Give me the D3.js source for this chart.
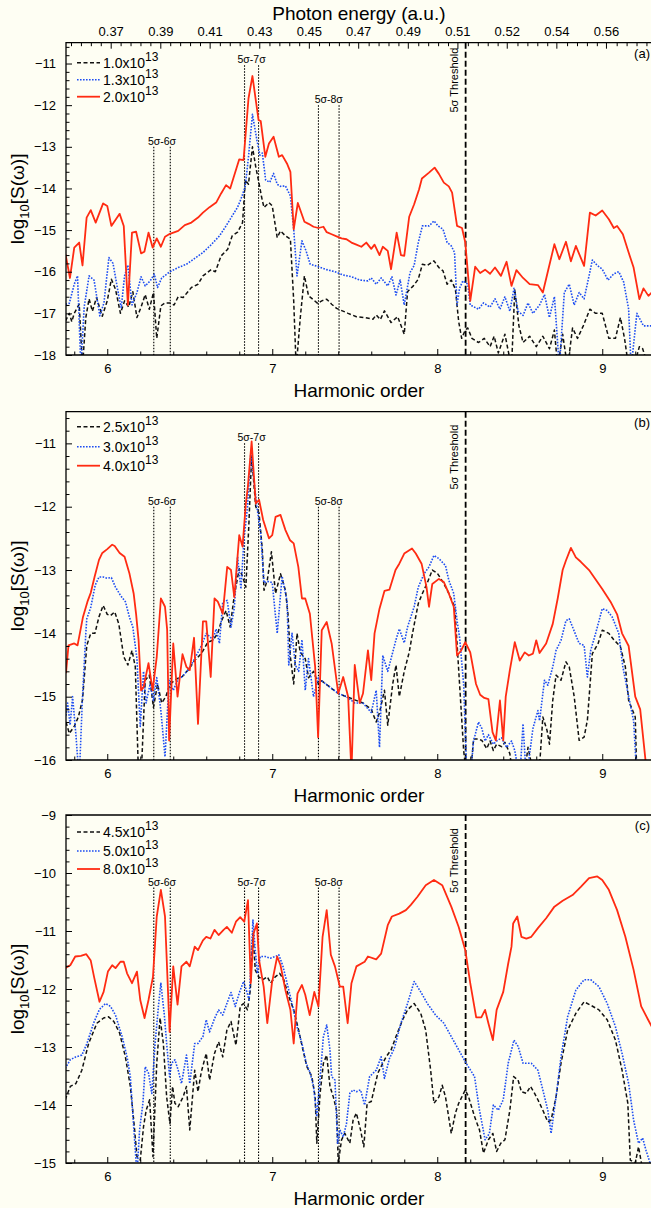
<!DOCTYPE html>
<html>
<head>
<meta charset="utf-8">
<script src="https://cdn.jsdelivr.net/npm/d3@7"></script>
<style>
body { margin: 0; background: #fefef3; }
svg { display: block; font-family: "Liberation Sans", Arial, Helvetica, sans-serif; }
</style>
</head>
<body>
<svg id="chart" width="651" height="1208"></svg>
<script>
// harmonic order range shown on every panel
const orderDomain = [5.75, 9.3];
const orderTicks = [6, 7, 8, 9];

// top axis (panel a only): photon energy in a.u.
const omega = 0.0622;
const energyTicks = [0.3745, 0.3932, 0.4118, 0.4305, 0.4492, 0.4678, 0.4865, 0.5052, 0.5238, 0.5425, 0.5612];
const energyLabels = ['0.37', '0.39', '0.41', '0.43', '0.45', '0.47', '0.49', '0.51', '0.52', '0.54', '0.56'];

// resonance markers
const sigmaPairs = [[6.282, 6.382], [6.832, 6.917], [7.28, 7.405]];
const sigmaLabels = ['5σ-6σ', '5σ-7σ', '5σ-8σ'];
const thresholdOrder = 8.172;

// panel (a)
const legendA = ['1.0', '1.3', '2.0'];
const a10 = [[5.747,-17.18],[5.77,-17.0],[5.785,-17.2],[5.80,-17.0],[5.83,-16.78],[5.85,-18.3],[5.87,-17.1],[5.89,-16.65],[5.91,-16.95],[5.935,-16.62],[5.97,-17.07],[6.0,-16.7],[6.025,-16.18],[6.05,-16.42],[6.08,-17.0],[6.105,-16.7],[6.13,-16.85],[6.155,-16.48],[6.18,-17.1],[6.205,-16.85],[6.23,-16.55],[6.255,-16.9],[6.28,-16.5],[6.30,-17.6],[6.325,-16.82],[6.35,-16.75],[6.38,-16.75],[6.405,-16.8],[6.43,-16.6],[6.46,-16.62],[6.485,-16.5],[6.51,-16.38],[6.55,-16.3],[6.58,-16.1],[6.63,-15.95],[6.655,-16.0],[6.69,-15.62],[6.73,-15.46],[6.757,-15.14],[6.79,-15.05],[6.82,-14.82],[6.837,-13.8],[6.856,-13.9],[6.88,-13.0],[6.90,-13.48],[6.92,-13.88],[6.935,-14.2],[6.95,-14.46],[6.98,-14.34],[7.0,-14.42],[7.03,-15.18],[7.05,-15.02],[7.08,-15.14],[7.11,-15.22],[7.13,-16.7],[7.145,-18.3],[7.17,-17.1],[7.195,-16.1],[7.22,-16.58],[7.245,-16.66],[7.275,-16.76],[7.30,-16.7],[7.33,-16.66],[7.36,-16.78],[7.39,-16.88],[7.46,-17.0],[7.51,-17.08],[7.56,-17.1],[7.61,-17.14],[7.63,-17.04],[7.655,-17.15],[7.68,-16.94],[7.72,-17.22],[7.76,-17.08],[7.80,-17.5],[7.82,-16.48],[7.855,-16.34],[7.885,-16.18],[7.91,-15.82],[7.94,-15.85],[7.98,-15.74],[8.01,-15.9],[8.035,-15.98],[8.06,-16.3],[8.085,-16.2],[8.11,-16.42],[8.13,-17.2],[8.148,-17.6],[8.17,-17.4],[8.185,-17.35],[8.21,-17.6],[8.25,-17.7],[8.285,-17.6],[8.32,-17.8],[8.345,-17.55],[8.37,-17.95],[8.41,-17.5],[8.45,-18.3],[8.47,-16.42],[8.495,-17.3],[8.52,-17.7],[8.56,-17.55],[8.6,-17.8],[8.64,-17.55],[8.68,-17.85],[8.71,-17.4],[8.73,-18.3],[8.76,-17.5],[8.79,-18.3],[8.82,-17.35],[8.85,-17.6],[8.885,-17.3],[8.925,-16.9],[8.96,-17.0],[9.0,-17.0],[9.04,-17.6],[9.08,-17.6],[9.11,-17.1],[9.135,-17.6],[9.16,-18.3],[9.19,-18.3],[9.225,-17.8],[9.245,-17.85],[9.28,-18.3],[9.3,-18.3]];
const a13 = [[5.747,-16.78],[5.77,-16.76],[5.80,-16.3],[5.82,-16.1],[5.84,-18.3],[5.86,-16.85],[5.89,-16.1],[5.92,-16.2],[5.955,-17.06],[5.98,-16.75],[6.01,-15.66],[6.035,-15.8],[6.07,-16.58],[6.085,-16.86],[6.105,-16.1],[6.125,-15.84],[6.15,-16.8],[6.18,-16.5],[6.205,-16.12],[6.23,-16.34],[6.26,-16.22],[6.285,-16.06],[6.305,-16.38],[6.33,-16.15],[6.38,-16.0],[6.43,-15.9],[6.48,-15.82],[6.53,-15.68],[6.58,-15.54],[6.63,-15.35],[6.68,-15.14],[6.72,-14.9],[6.757,-14.66],[6.79,-14.45],[6.81,-14.26],[6.836,-13.96],[6.856,-13.24],[6.88,-12.22],[6.907,-12.84],[6.925,-13.2],[6.94,-13.15],[6.96,-13.8],[6.985,-13.85],[7.008,-13.64],[7.03,-13.9],[7.05,-13.95],[7.08,-13.94],[7.11,-14.18],[7.13,-14.98],[7.15,-16.1],[7.18,-15.26],[7.205,-15.5],[7.23,-15.82],[7.28,-15.88],[7.33,-15.95],[7.38,-16.0],[7.43,-16.08],[7.48,-16.12],[7.53,-16.2],[7.58,-16.22],[7.6,-16.15],[7.63,-16.3],[7.66,-16.15],[7.70,-16.34],[7.725,-16.12],[7.75,-16.56],[7.775,-16.2],[7.80,-16.8],[7.835,-16.02],[7.86,-15.85],[7.885,-15.3],[7.91,-14.9],[7.95,-14.9],[7.98,-14.78],[8.005,-14.9],[8.035,-14.98],[8.06,-15.3],[8.085,-15.38],[8.105,-15.54],[8.12,-16.8],[8.135,-16.4],[8.155,-16.22],[8.185,-16.3],[8.2,-16.8],[8.25,-16.9],[8.28,-16.75],[8.32,-16.85],[8.35,-16.65],[8.38,-16.9],[8.41,-16.6],[8.44,-16.95],[8.465,-16.4],[8.49,-16.95],[8.52,-17.05],[8.55,-16.75],[8.58,-17.0],[8.62,-16.8],[8.65,-16.55],[8.68,-17.1],[8.71,-16.6],[8.74,-18.3],[8.77,-16.5],[8.80,-16.3],[8.83,-16.8],[8.86,-16.5],[8.89,-16.65],[8.92,-16.1],[8.94,-15.72],[8.97,-15.85],[9.0,-15.94],[9.035,-16.2],[9.07,-16.05],[9.1,-16.0],[9.13,-16.25],[9.16,-16.9],[9.175,-18.3],[9.21,-17.0],[9.25,-17.3],[9.30,-17.3]];
const a20 = [[5.747,-15.58],[5.774,-16.15],[5.80,-15.42],[5.83,-15.30],[5.85,-15.85],[5.875,-14.70],[5.90,-14.52],[5.93,-14.82],[5.975,-14.36],[6.0,-14.42],[6.025,-14.90],[6.075,-14.61],[6.10,-14.90],[6.125,-16.8],[6.15,-15.06],[6.175,-15.04],[6.205,-15.56],[6.225,-15.52],[6.25,-15.06],[6.275,-15.42],[6.30,-15.2],[6.325,-15.40],[6.35,-15.16],[6.38,-15.09],[6.43,-15.02],[6.47,-14.88],[6.51,-14.82],[6.55,-14.7],[6.58,-14.58],[6.62,-14.45],[6.66,-14.34],[6.69,-14.12],[6.72,-13.92],[6.745,-14.0],[6.80,-13.30],[6.826,-13.32],[6.856,-11.84],[6.88,-11.30],[6.917,-12.36],[6.93,-12.38],[6.958,-13.24],[6.98,-12.92],[7.008,-12.76],[7.04,-13.24],[7.06,-13.2],[7.089,-13.4],[7.11,-13.6],[7.13,-14.98],[7.155,-14.35],[7.195,-14.8],[7.22,-14.85],[7.25,-14.92],[7.28,-14.95],[7.31,-14.92],[7.33,-15.05],[7.36,-15.1],[7.39,-15.15],[7.42,-15.2],[7.45,-15.22],[7.48,-15.3],[7.51,-15.35],[7.54,-15.4],[7.57,-15.3],[7.6,-15.45],[7.62,-15.35],[7.65,-15.6],[7.67,-15.4],[7.70,-15.5],[7.72,-15.94],[7.754,-15.06],[7.78,-15.6],[7.80,-15.62],[7.83,-14.68],[7.86,-14.38],[7.89,-14.02],[7.907,-13.76],[7.95,-13.62],[7.984,-13.5],[8.01,-13.65],[8.04,-13.86],[8.07,-13.95],[8.09,-14.1],[8.12,-14.9],[8.15,-14.95],[8.17,-15.3],[8.20,-16.7],[8.23,-15.88],[8.26,-16.03],[8.29,-15.95],[8.32,-16.05],[8.35,-15.9],[8.386,-16.1],[8.42,-15.76],[8.45,-16.34],[8.48,-15.96],[8.52,-16.15],[8.56,-16.3],[8.61,-16.32],[8.64,-16.5],[8.67,-16.0],[8.71,-15.34],[8.74,-15.7],[8.78,-15.28],[8.81,-15.75],[8.84,-15.38],[8.89,-15.86],[8.925,-14.58],[8.96,-14.65],[9.0,-14.53],[9.04,-14.74],[9.07,-14.95],[9.09,-14.9],[9.125,-15.1],[9.16,-15.54],[9.19,-15.9],[9.225,-16.66],[9.25,-16.4],[9.28,-16.58],[9.30,-16.5]];
const yTicksA = [-18, -17, -16, -15, -14, -13, -12, -11];
const sigmaTopsA = [-13, -11.04, -12];

// panel (b)
const legendB = ['2.5', '3.0', '4.0'];
const b25 = [[5.75,-15.4],[5.77,-15.58],[5.80,-15.47],[5.825,-15.32],[5.85,-15.05],[5.876,-14.19],[5.90,-14.0],[5.925,-14.0],[5.95,-13.74],[5.975,-13.56],[6.0,-13.7],[6.02,-13.72],[6.045,-13.66],[6.07,-13.85],[6.10,-14.37],[6.125,-14.5],[6.15,-14.27],[6.17,-14.53],[6.19,-16.3],[6.205,-16.3],[6.23,-14.74],[6.255,-14.66],[6.28,-15.17],[6.305,-14.8],[6.33,-15.1],[6.355,-15.0],[6.38,-14.8],[6.42,-14.72],[6.455,-14.68],[6.49,-14.58],[6.53,-14.43],[6.57,-14.32],[6.61,-14.14],[6.64,-14.11],[6.67,-14.0],[6.69,-13.82],[6.72,-13.64],[6.745,-13.9],[6.77,-13.4],[6.80,-12.98],[6.82,-13.1],[6.84,-13.27],[6.858,-12.3],[6.875,-11.2],[6.90,-12.0],[6.92,-12.1],[6.94,-12.69],[6.95,-13.32],[6.97,-13.16],[6.995,-12.71],[7.02,-13.37],[7.05,-13.06],[7.08,-13.32],[7.095,-13.69],[7.11,-14.37],[7.13,-14.8],[7.15,-14.0],[7.17,-14.3],[7.2,-14.4],[7.22,-14.7],[7.25,-14.6],[7.28,-14.8],[7.3,-14.75],[7.35,-14.85],[7.4,-14.95],[7.45,-15.0],[7.5,-15.05],[7.55,-15.1],[7.6,-15.2],[7.63,-15.4],[7.65,-15.25],[7.68,-14.9],[7.7,-15.45],[7.73,-14.8],[7.75,-14.5],[7.77,-15.0],[7.8,-14.6],[7.83,-14.3],[7.85,-14.0],[7.885,-13.53],[7.91,-13.37],[7.94,-13.2],[7.97,-13.0],[8.0,-13.05],[8.035,-13.19],[8.07,-13.37],[8.105,-13.58],[8.12,-14.16],[8.14,-15.0],[8.16,-15.85],[8.18,-16.3],[8.2,-16.3],[8.22,-15.67],[8.25,-15.67],[8.27,-15.69],[8.30,-15.82],[8.32,-15.7],[8.34,-15.85],[8.36,-15.75],[8.39,-15.79],[8.41,-15.72],[8.44,-15.9],[8.46,-16.3],[8.5,-16.3],[8.53,-16.2],[8.55,-15.8],[8.59,-16.3],[8.62,-16.1],[8.64,-15.32],[8.665,-15.53],[8.68,-15.75],[8.70,-15.06],[8.72,-14.66],[8.75,-14.74],[8.78,-14.45],[8.80,-14.53],[8.83,-15.0],[8.86,-15.69],[8.89,-15.64],[8.91,-15.37],[8.94,-14.32],[8.975,-14.16],[9.0,-13.95],[9.04,-14.0],[9.07,-14.1],[9.11,-14.21],[9.14,-14.53],[9.16,-15.06],[9.2,-15.32],[9.21,-16.3],[9.3,-16.3]];
const b30 = [[5.75,-15.3],[5.76,-15.1],[5.775,-15.45],[5.79,-15.0],[5.81,-15.6],[5.83,-16.3],[5.85,-15.0],[5.87,-14.0],[5.876,-13.77],[5.90,-13.59],[5.927,-13.24],[5.95,-13.11],[5.975,-13.11],[6.0,-13.13],[6.025,-13.12],[6.05,-13.27],[6.08,-13.4],[6.11,-13.5],[6.135,-13.75],[6.155,-13.9],[6.18,-14.4],[6.2,-15.47],[6.22,-14.6],[6.235,-15.1],[6.26,-14.8],[6.28,-15.06],[6.30,-14.7],[6.325,-15.22],[6.35,-15.95],[6.375,-14.74],[6.40,-14.9],[6.426,-14.74],[6.455,-14.68],[6.49,-14.58],[6.53,-14.4],[6.57,-14.2],[6.6,-14.0],[6.64,-14.1],[6.66,-13.93],[6.68,-14.16],[6.70,-13.5],[6.727,-13.48],[6.75,-13.9],[6.77,-13.6],[6.79,-12.79],[6.81,-13.3],[6.83,-12.48],[6.85,-12.0],[6.87,-11.15],[6.89,-11.6],[6.907,-12.0],[6.93,-12.42],[6.95,-13.2],[6.975,-13.18],[7.0,-13.2],[7.03,-14.0],[7.06,-13.1],[7.09,-13.5],[7.1,-14.5],[7.12,-14.0],[7.14,-14.5],[7.16,-14.6],[7.18,-14.1],[7.2,-14.9],[7.22,-14.4],[7.25,-15.0],[7.28,-14.7],[7.3,-14.75],[7.35,-14.85],[7.4,-14.95],[7.45,-15.0],[7.5,-15.1],[7.55,-15.1],[7.6,-15.25],[7.63,-14.9],[7.65,-15.8],[7.67,-14.35],[7.7,-14.6],[7.72,-14.4],[7.75,-14.1],[7.77,-13.93],[7.8,-14.15],[7.82,-13.9],[7.86,-13.58],[7.885,-13.27],[7.92,-13.06],[7.95,-12.95],[7.98,-12.77],[8.01,-12.82],[8.05,-12.93],[8.07,-13.16],[8.10,-13.37],[8.12,-13.8],[8.135,-14.06],[8.16,-14.8],[8.18,-16.3],[8.20,-16.3],[8.22,-15.7],[8.25,-15.4],[8.27,-15.5],[8.29,-15.7],[8.31,-15.6],[8.34,-15.75],[8.36,-15.7],[8.39,-15.65],[8.42,-15.8],[8.45,-15.7],[8.47,-15.85],[8.5,-16.3],[8.52,-15.43],[8.54,-16.3],[8.58,-15.5],[8.61,-15.22],[8.62,-15.38],[8.65,-14.74],[8.67,-14.82],[8.70,-14.53],[8.72,-14.27],[8.75,-14.11],[8.78,-13.8],[8.80,-13.77],[8.82,-13.9],[8.86,-14.16],[8.89,-14.19],[8.91,-14.69],[8.93,-14.27],[8.96,-14.0],[9.0,-13.61],[9.03,-13.64],[9.06,-13.74],[9.1,-14.0],[9.125,-14.53],[9.16,-15.0],[9.19,-15.38],[9.21,-16.3],[9.3,-16.3]];
const b40 = [[5.75,-14.63],[5.765,-14.19],[5.80,-14.16],[5.82,-14.19],[5.853,-13.74],[5.88,-13.5],[5.90,-13.36],[5.923,-13.11],[5.95,-12.84],[5.97,-12.73],[6.0,-12.67],[6.03,-12.6],[6.045,-12.62],[6.075,-12.73],[6.105,-12.79],[6.135,-13.06],[6.16,-13.37],[6.175,-13.7],[6.19,-14.11],[6.205,-14.9],[6.22,-14.85],[6.25,-14.47],[6.275,-14.9],[6.30,-14.37],[6.325,-13.45],[6.35,-13.58],[6.363,-13.94],[6.375,-15.69],[6.40,-14.16],[6.426,-15.0],[6.456,-14.33],[6.48,-14.53],[6.50,-14.58],[6.526,-14.07],[6.55,-15.43],[6.58,-13.81],[6.60,-13.81],[6.627,-14.69],[6.65,-13.45],[6.67,-13.5],[6.70,-13.69],[6.727,-12.95],[6.75,-13.0],[6.77,-13.43],[6.80,-12.45],[6.82,-12.63],[6.84,-11.95],[6.852,-11.69],[6.875,-10.97],[6.90,-11.95],[6.92,-11.89],[6.945,-12.21],[6.98,-12.5],[7.0,-12.45],[7.02,-12.16],[7.05,-12.13],[7.08,-12.37],[7.108,-12.53],[7.13,-12.58],[7.158,-12.95],[7.18,-13.45],[7.20,-13.45],[7.228,-13.69],[7.26,-14.53],[7.278,-15.64],[7.30,-13.95],[7.33,-13.82],[7.36,-14.16],[7.40,-14.95],[7.43,-14.69],[7.46,-15.0],[7.48,-16.2],[7.50,-14.5],[7.53,-15.1],[7.55,-14.95],[7.58,-14.27],[7.60,-14.74],[7.62,-14.0],[7.65,-13.61],[7.68,-13.33],[7.71,-13.31],[7.747,-13.0],[7.77,-12.9],[7.80,-12.74],[7.847,-12.66],[7.87,-12.74],[7.905,-12.9],[7.935,-13.27],[7.95,-13.58],[7.97,-13.22],[8.01,-13.14],[8.04,-13.19],[8.07,-13.37],[8.10,-13.58],[8.12,-14.35],[8.145,-14.27],[8.17,-14.14],[8.20,-14.3],[8.235,-14.8],[8.26,-14.97],[8.285,-15.02],[8.31,-15.04],[8.335,-15.56],[8.355,-15.69],[8.38,-15.06],[8.40,-15.69],[8.415,-15.0],[8.44,-14.58],[8.47,-14.14],[8.50,-14.43],[8.53,-14.3],[8.555,-14.35],[8.58,-14.32],[8.60,-14.11],[8.62,-14.31],[8.66,-14.16],[8.70,-13.85],[8.73,-13.45],[8.76,-13.0],[8.78,-12.85],[8.81,-12.65],[8.84,-12.8],[8.87,-12.87],[8.92,-13.0],[8.96,-13.15],[9.0,-13.3],[9.05,-13.5],[9.09,-13.7],[9.12,-14.0],[9.16,-14.2],[9.2,-15.0],[9.23,-15.2],[9.27,-16.2]];
const yTicksB = [-16, -15, -14, -13, -12, -11];
const sigmaTopsB = [-12, -11, -12];

// panel (c)
const legendC = ['4.5', '5.0', '8.0'];
const c45 = [[5.745,-13.91],[5.776,-13.68],[5.81,-13.63],[5.846,-13.4],[5.887,-12.94],[5.937,-12.59],[5.978,-12.5],[6.008,-12.48],[6.04,-12.56],[6.075,-12.76],[6.11,-13.17],[6.14,-13.68],[6.164,-14.37],[6.18,-14.89],[6.2,-14.95],[6.22,-14.37],[6.236,-14.09],[6.257,-13.91],[6.277,-14.89],[6.30,-13.28],[6.32,-12.5],[6.34,-12.94],[6.36,-13.86],[6.38,-14.32],[6.396,-13.68],[6.41,-13.97],[6.43,-14.03],[6.46,-13.86],[6.48,-13.68],[6.50,-14.43],[6.53,-13.4],[6.55,-13.77],[6.57,-13.43],[6.60,-13.11],[6.62,-13.57],[6.65,-13.11],[6.675,-12.91],[6.70,-13.17],[6.725,-12.71],[6.75,-12.56],[6.78,-12.97],[6.806,-12.3],[6.826,-12.25],[6.85,-12.36],[6.867,-12.02],[6.883,-11.04],[6.897,-11.67],[6.917,-11.79],[6.943,-11.84],[6.97,-11.79],[6.99,-11.9],[7.018,-11.79],[7.045,-11.73],[7.07,-11.84],[7.10,-12.13],[7.13,-12.36],[7.16,-12.71],[7.186,-13.05],[7.21,-13.34],[7.24,-13.51],[7.26,-13.86],[7.27,-14.66],[7.29,-13.8],[7.31,-13.28],[7.33,-13.14],[7.35,-13.68],[7.37,-13.86],[7.39,-14.09],[7.40,-15.0],[7.42,-14.6],[7.44,-14.49],[7.47,-14.66],[7.49,-14.26],[7.51,-14.14],[7.535,-14.43],[7.555,-14.72],[7.575,-13.97],[7.60,-13.94],[7.64,-13.45],[7.67,-13.28],[7.69,-13.17],[7.72,-13.05],[7.75,-12.82],[7.79,-12.53],[7.82,-12.36],[7.86,-12.25],[7.90,-12.42],[7.93,-12.71],[7.96,-13.4],[7.98,-13.97],[8.01,-13.86],[8.03,-13.66],[8.05,-13.86],[8.085,-14.49],[8.11,-14.14],[8.13,-13.97],[8.17,-13.74],[8.19,-13.86],[8.226,-14.2],[8.256,-14.43],[8.28,-14.83],[8.31,-14.6],[8.337,-14.49],[8.36,-14.8],[8.385,-14.66],[8.41,-14.6],[8.44,-14.09],[8.463,-13.51],[8.49,-13.57],[8.51,-13.77],[8.54,-13.8],[8.565,-13.68],[8.59,-13.8],[8.61,-13.91],[8.64,-14.09],[8.67,-14.29],[8.69,-14.26],[8.72,-13.86],[8.75,-13.28],[8.79,-12.71],[8.84,-12.42],[8.89,-12.22],[8.93,-12.28],[8.98,-12.36],[9.03,-12.53],[9.08,-12.88],[9.12,-13.4],[9.155,-13.97],[9.17,-14.95],[9.20,-15.0],[9.22,-14.72],[9.25,-15.2],[9.3,-15.2]];
const c50 = [[5.745,-13.37],[5.776,-13.22],[5.81,-13.17],[5.846,-13.14],[5.877,-12.94],[5.917,-12.59],[5.953,-12.35],[5.99,-12.25],[6.02,-12.3],[6.05,-12.45],[6.09,-12.82],[6.12,-13.17],[6.14,-13.51],[6.16,-14.37],[6.18,-15.2],[6.196,-14.43],[6.216,-13.97],[6.23,-13.34],[6.25,-13.45],[6.27,-13.8],[6.29,-12.94],[6.31,-12.3],[6.325,-11.9],[6.345,-12.42],[6.36,-12.94],[6.378,-13.51],[6.39,-13.28],[6.41,-13.22],[6.43,-13.4],[6.45,-13.63],[6.48,-13.14],[6.50,-13.63],[6.53,-12.94],[6.55,-12.94],[6.58,-12.82],[6.60,-12.53],[6.62,-12.74],[6.65,-12.51],[6.675,-12.36],[6.70,-12.45],[6.725,-12.25],[6.75,-12.06],[6.776,-12.3],[6.80,-12.07],[6.826,-11.87],[6.846,-12.05],[6.86,-12.19],[6.883,-10.81],[6.897,-11.33],[6.91,-11.73],[6.927,-11.44],[6.957,-11.44],[6.988,-11.47],[7.02,-11.44],[7.04,-11.41],[7.065,-11.61],[7.09,-11.9],[7.12,-12.25],[7.15,-12.65],[7.18,-12.94],[7.206,-13.28],[7.23,-13.45],[7.25,-13.68],[7.27,-14.2],[7.287,-13.63],[7.31,-12.82],[7.33,-12.62],[7.35,-13.05],[7.36,-13.51],[7.38,-13.57],[7.396,-14.66],[7.41,-14.43],[7.43,-14.55],[7.45,-14.32],[7.47,-13.8],[7.49,-13.74],[7.51,-13.77],[7.535,-13.74],[7.56,-14.0],[7.59,-13.51],[7.63,-13.4],[7.66,-13.17],[7.68,-13.54],[7.71,-13.2],[7.74,-13.02],[7.78,-12.59],[7.82,-12.25],[7.86,-11.87],[7.90,-12.05],[7.94,-12.25],[7.99,-12.45],[8.04,-12.59],[8.085,-12.82],[8.13,-13.05],[8.175,-13.28],[8.226,-13.51],[8.256,-14.09],[8.29,-14.6],[8.316,-14.49],[8.34,-14.0],[8.37,-14.09],[8.40,-13.91],[8.43,-13.28],[8.465,-12.88],[8.49,-12.99],[8.52,-13.28],[8.57,-13.28],[8.61,-13.4],[8.64,-13.74],[8.67,-14.09],[8.69,-14.49],[8.72,-13.86],[8.75,-13.17],[8.79,-12.48],[8.84,-12.02],[8.89,-11.84],[8.93,-11.84],[8.98,-11.96],[9.03,-12.25],[9.08,-12.65],[9.12,-13.11],[9.16,-13.63],[9.19,-14.26],[9.22,-14.66],[9.245,-14.57],[9.265,-14.78],[9.29,-15.0],[9.3,-15.1]];
const c80 = [[5.745,-11.64],[5.776,-11.59],[5.806,-11.44],[5.84,-11.43],[5.873,-11.40],[5.90,-11.51],[5.92,-11.79],[5.953,-12.22],[5.978,-12.05],[6.004,-11.70],[6.03,-11.59],[6.05,-11.64],[6.08,-11.53],[6.10,-11.53],[6.12,-11.73],[6.15,-11.9],[6.18,-11.70],[6.20,-12.19],[6.226,-12.5],[6.25,-12.19],[6.277,-11.79],[6.30,-10.75],[6.325,-10.29],[6.35,-10.75],[6.378,-12.74],[6.40,-11.61],[6.426,-12.27],[6.45,-11.61],[6.48,-11.53],[6.50,-11.61],[6.53,-11.27],[6.55,-11.33],[6.58,-11.16],[6.60,-11.10],[6.625,-11.13],[6.65,-10.98],[6.675,-11.07],[6.705,-10.98],[6.725,-10.93],[6.755,-11.03],[6.78,-10.84],[6.806,-10.76],[6.83,-10.84],[6.853,-10.47],[6.87,-11.9],[6.887,-11.04],[6.907,-10.87],[6.92,-11.5],[6.948,-11.96],[6.97,-12.59],[6.998,-11.9],[7.03,-11.44],[7.05,-11.59],[7.08,-12.02],[7.11,-12.36],[7.13,-12.94],[7.153,-12.08],[7.18,-11.93],[7.20,-12.10],[7.227,-12.45],[7.255,-12.05],[7.28,-12.3],[7.305,-11.1],[7.33,-10.64],[7.355,-11.41],[7.38,-11.61],[7.41,-11.96],[7.43,-11.96],[7.457,-12.59],[7.48,-11.9],[7.51,-11.61],[7.56,-11.53],[7.58,-11.44],[7.63,-11.49],[7.66,-11.39],[7.70,-10.9],[7.725,-10.75],[7.77,-10.70],[7.81,-10.64],[7.84,-10.55],[7.88,-10.41],[7.93,-10.21],[7.98,-10.12],[8.03,-10.21],[8.085,-10.58],[8.13,-10.93],[8.17,-11.33],[8.20,-11.9],[8.236,-12.49],[8.267,-12.49],[8.29,-12.36],[8.31,-12.59],[8.337,-12.88],[8.36,-12.36],[8.40,-12.05],[8.43,-11.56],[8.45,-11.27],[8.46,-10.87],[8.485,-10.75],[8.51,-11.1],[8.54,-11.13],[8.57,-11.1],[8.61,-10.95],[8.66,-10.78],[8.71,-10.58],[8.76,-10.48],[8.82,-10.38],[8.87,-10.24],[8.92,-10.09],[8.97,-10.06],[9.0,-10.12],[9.04,-10.29],[9.09,-10.64],[9.14,-11.1],[9.19,-11.67],[9.236,-12.30],[9.278,-12.53],[9.30,-12.65]];
const yTicksC = [-15, -14, -13, -12, -11, -10, -9];
const sigmaTopsC = [-10.25, -10.25, -10.25];

const width = 651;
const height = 1208;
const plotLeft = 66;
const plotRight = 651.75;

const svg = d3.select('#chart');
svg.append('rect').attr('width', width).attr('height', height).attr('fill', '#fefef3');

const x = d3.scaleLinear().domain(orderDomain).range([plotLeft, plotRight]);

// black dashed, blue dotted, red solid
const seriesStyle = [
    { color: '#111111', dash: '4,2.5', width: 1.5 },
    { color: '#1e4ef2', dash: '1.6,1.4', width: 1.6 },
    { color: '#ff2b12', dash: null, width: 1.8 }
];

const panels = [
    { id: 'a', top: 42.7, bottom: 355, yDomain: [-18, -10.5], yTicks: yTicksA, series: [a10, a13, a20], legend: legendA, legendY: [20, 37, 54], sigmaTops: sigmaTopsA, thrOffset: 5 },
    { id: 'b', top: 411.7, bottom: 760, yDomain: [-16, -10.5], yTicks: yTicksB, series: [b25, b30, b40], legend: legendB, legendY: [15, 35, 54], sigmaTops: sigmaTopsB, thrOffset: 13 },
    { id: 'c', top: 815, bottom: 1163, yDomain: [-15, -9], yTicks: yTicksC, series: [c45, c50, c80], legend: legendC, legendY: [17, 36, 54], sigmaTops: sigmaTopsC, thrOffset: 13 }
];

const defs = svg.append('defs');

panels.forEach((p) => {
    const y = d3.scaleLinear().domain(p.yDomain).range([p.bottom, p.top]);
    const g = svg.append('g').attr('class', `panel-${p.id}`);

    defs.append('clipPath').attr('id', `clip-${p.id}`)
        .append('rect')
        .attr('x', plotLeft)
        .attr('y', p.top)
        .attr('width', plotRight - plotLeft)
        .attr('height', p.bottom - p.top);

    // resonance markers
    sigmaPairs.forEach((pair, i) => {
        pair.forEach((q) => {
            g.append('line')
                .attr('x1', x(q)).attr('x2', x(q))
                .attr('y1', y(p.sigmaTops[i])).attr('y2', p.bottom)
                .attr('stroke', '#000')
                .attr('stroke-width', 1.1)
                .attr('stroke-dasharray', '1.5,1.5');
        });
        g.append('text')
            .attr('x', (x(pair[0]) + x(pair[1])) / 2)
            .attr('y', y(p.sigmaTops[i]) - 2)
            .attr('text-anchor', 'middle')
            .attr('font-size', 10.5)
            .text(sigmaLabels[i]);
    });

    // 5 sigma threshold
    g.append('line')
        .attr('x1', x(thresholdOrder)).attr('x2', x(thresholdOrder))
        .attr('y1', p.top).attr('y2', p.bottom)
        .attr('stroke', '#000')
        .attr('stroke-width', 1.8)
        .attr('stroke-dasharray', '6,3');
    g.append('text')
        .attr('transform', `translate(${x(thresholdOrder) - 8},${p.top + p.thrOffset}) rotate(-90)`)
        .attr('text-anchor', 'end')
        .attr('font-size', 11)
        .text('5σ Threshold');

    // spectra
    const line = d3.line()
        .x(d => x(d[0]))
        .y(d => y(d[1]));

    g.append('g')
        .attr('clip-path', `url(#clip-${p.id})`)
        .selectAll('path')
        .data(p.series)
        .enter()
        .append('path')
        .attr('d', line)
        .attr('fill', 'none')
        .attr('stroke', (d, i) => seriesStyle[i].color)
        .attr('stroke-width', (d, i) => seriesStyle[i].width)
        .attr('stroke-dasharray', (d, i) => seriesStyle[i].dash)
        .attr('stroke-linejoin', 'round');

    // left axis, major + minor ticks inward
    const yMinor = d3.range(p.yDomain[0], p.yDomain[1] + 1e-9, 0.2)
        .filter(v => Math.abs(v - Math.round(v)) > 1e-6);
    g.append('g')
        .attr('transform', `translate(${plotLeft},0)`)
        .call(d3.axisLeft(y).tickValues(yMinor).tickFormat('').tickSize(-3.5).tickSizeOuter(0))
        .call(s => s.select('.domain').remove());
    g.append('g')
        .attr('transform', `translate(${plotLeft},0)`)
        .call(d3.axisLeft(y).tickValues(p.yTicks).tickFormat(d3.format('d')).tickSize(-6).tickPadding(10).tickSizeOuter(0))
        .call(s => s.select('.domain').remove())
        .call(s => s.selectAll('text').attr('font-size', 13).attr('font-family', null).attr('fill', '#000'));

    // bottom axis
    const xMinor = d3.range(5.8, 9.3, 0.2).filter(v => Math.abs(v - Math.round(v)) > 1e-6);
    g.append('g')
        .attr('transform', `translate(0,${p.bottom})`)
        .call(d3.axisBottom(x).tickValues(xMinor).tickFormat('').tickSize(-3.5).tickSizeOuter(0))
        .call(s => s.select('.domain').remove());
    g.append('g')
        .attr('transform', `translate(0,${p.bottom})`)
        .call(d3.axisBottom(x).tickValues(orderTicks).tickFormat(d3.format('d')).tickSize(-6).tickPadding(9).tickSizeOuter(0))
        .call(s => s.select('.domain').remove())
        .call(s => s.selectAll('text').attr('font-size', 13).attr('font-family', null).attr('fill', '#000'));

    // frame: top, left, bottom
    g.append('path')
        .attr('d', `M${plotRight},${p.top}H${plotLeft}V${p.bottom}H${plotRight}`)
        .attr('fill', 'none')
        .attr('stroke', '#000')
        .attr('stroke-width', 1.3);

    // legend
    p.legend.forEach((lab, i) => {
        const ly = p.top + p.legendY[i];
        g.append('line')
            .attr('x1', 77).attr('x2', 100)
            .attr('y1', ly).attr('y2', ly)
            .attr('stroke', seriesStyle[i].color)
            .attr('stroke-width', seriesStyle[i].width)
            .attr('stroke-dasharray', seriesStyle[i].dash);
        const t = g.append('text')
            .attr('x', 103)
            .attr('y', ly + 5)
            .attr('font-size', 14)
            .text(`${lab}x10`);
        t.append('tspan')
            .attr('dy', -7)
            .attr('font-size', 12)
            .text('13');
    });

    // panel letter
    g.append('text')
        .attr('x', 650)
        .attr('y', p.top + 15)
        .attr('text-anchor', 'end')
        .attr('font-size', 13)
        .text(`(${p.id})`);

    // axis titles
    g.append('text')
        .attr('x', (plotLeft + plotRight) / 2)
        .attr('y', p.bottom + 42)
        .attr('text-anchor', 'middle')
        .attr('font-size', 19)
        .text('Harmonic order');

    const yt = g.append('text')
        .attr('transform', `translate(24,${(p.top + p.bottom) / 2}) rotate(-90)`)
        .attr('text-anchor', 'middle')
        .attr('font-size', 19);
    yt.append('tspan').text('log');
    yt.append('tspan').attr('font-size', 13).attr('dy', 5).text('10');
    yt.append('tspan').attr('dy', -5).text('[S(ω)]');

    // photon energy on top of the first panel
    if (p.id === 'a') {
        const xe = d3.scaleLinear()
            .domain([orderDomain[0] * omega, orderDomain[1] * omega])
            .range([plotLeft, plotRight]);
        const step = energyTicks[1] - energyTicks[0];
        const eMinor = [];
        d3.range(-1, energyTicks.length).forEach((k) => {
            for (let j = 1; j < 5; j += 1) {
                const v = energyTicks[0] + (k + j / 5) * step;
                if (xe(v) > plotLeft + 1 && xe(v) < plotRight) eMinor.push(v);
            }
        });
        g.append('g')
            .attr('transform', `translate(0,${p.top})`)
            .call(d3.axisTop(xe).tickValues(eMinor).tickFormat('').tickSize(-3.5).tickSizeOuter(0))
            .call(s => s.select('.domain').remove());
        g.append('g')
            .attr('transform', `translate(0,${p.top})`)
            .call(d3.axisTop(xe).tickValues(energyTicks).tickFormat((d, i) => energyLabels[i]).tickSize(-6).tickPadding(7).tickSizeOuter(0))
            .call(s => s.select('.domain').remove())
            .call(s => s.selectAll('text').attr('font-size', 13).attr('font-family', null).attr('fill', '#000'));
        g.append('text')
            .attr('x', (plotLeft + plotRight) / 2)
            .attr('y', 20)
            .attr('text-anchor', 'middle')
            .attr('font-size', 19)
            .text('Photon energy (a.u.)');
    }
});
</script>
</body>
</html>
